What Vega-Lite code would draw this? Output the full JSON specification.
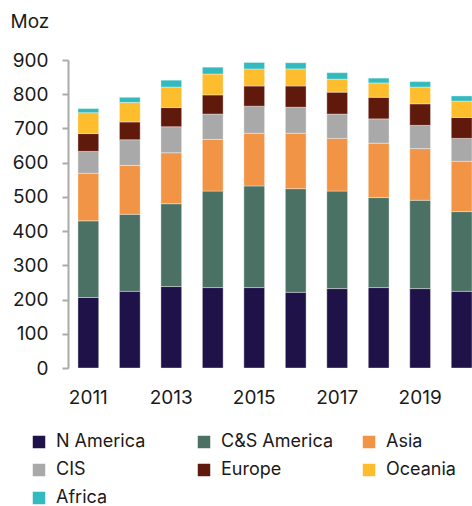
{
  "$schema": "https://vega.github.io/schema/vega-lite/v6.json",
  "width": 404,
  "height": 308,
  "autosize": {"type": "none"},
  "padding": {"left": 68, "top": 60, "right": 0, "bottom": 138},
  "background": "white",
  "config": {
    "view": {"stroke": null},
    "font": "Inter",
    "axis": {"labelFont": "Inter", "titleFont": "Inter", "labelColor": "#1a1a1a", "titleColor": "#1a1a1a"},
    "legend": {"labelFont": "Inter"}
  },
  "data": {
    "values": [
      {"year": "2011", "region": "N America", "k": 1, "v": 206},
      {"year": "2011", "region": "C&S America", "k": 2, "v": 224},
      {"year": "2011", "region": "Asia", "k": 3, "v": 139},
      {"year": "2011", "region": "CIS", "k": 4, "v": 64},
      {"year": "2011", "region": "Europe", "k": 5, "v": 52},
      {"year": "2011", "region": "Oceania", "k": 6, "v": 61},
      {"year": "2011", "region": "Africa", "k": 7, "v": 12},
      {"year": "2012", "region": "N America", "k": 1, "v": 224},
      {"year": "2012", "region": "C&S America", "k": 2, "v": 225},
      {"year": "2012", "region": "Asia", "k": 3, "v": 143},
      {"year": "2012", "region": "CIS", "k": 4, "v": 75},
      {"year": "2012", "region": "Europe", "k": 5, "v": 52},
      {"year": "2012", "region": "Oceania", "k": 6, "v": 57},
      {"year": "2012", "region": "Africa", "k": 7, "v": 15},
      {"year": "2013", "region": "N America", "k": 1, "v": 238},
      {"year": "2013", "region": "C&S America", "k": 2, "v": 242},
      {"year": "2013", "region": "Asia", "k": 3, "v": 149},
      {"year": "2013", "region": "CIS", "k": 4, "v": 76},
      {"year": "2013", "region": "Europe", "k": 5, "v": 56},
      {"year": "2013", "region": "Oceania", "k": 6, "v": 60},
      {"year": "2013", "region": "Africa", "k": 7, "v": 20},
      {"year": "2014", "region": "N America", "k": 1, "v": 235},
      {"year": "2014", "region": "C&S America", "k": 2, "v": 282},
      {"year": "2014", "region": "Asia", "k": 3, "v": 151},
      {"year": "2014", "region": "CIS", "k": 4, "v": 74},
      {"year": "2014", "region": "Europe", "k": 5, "v": 56},
      {"year": "2014", "region": "Oceania", "k": 6, "v": 61},
      {"year": "2014", "region": "Africa", "k": 7, "v": 20},
      {"year": "2015", "region": "N America", "k": 1, "v": 235},
      {"year": "2015", "region": "C&S America", "k": 2, "v": 297},
      {"year": "2015", "region": "Asia", "k": 3, "v": 154},
      {"year": "2015", "region": "CIS", "k": 4, "v": 79},
      {"year": "2015", "region": "Europe", "k": 5, "v": 59},
      {"year": "2015", "region": "Oceania", "k": 6, "v": 50},
      {"year": "2015", "region": "Africa", "k": 7, "v": 19},
      {"year": "2016", "region": "N America", "k": 1, "v": 221},
      {"year": "2016", "region": "C&S America", "k": 2, "v": 303},
      {"year": "2016", "region": "Asia", "k": 3, "v": 162},
      {"year": "2016", "region": "CIS", "k": 4, "v": 76},
      {"year": "2016", "region": "Europe", "k": 5, "v": 62},
      {"year": "2016", "region": "Oceania", "k": 6, "v": 50},
      {"year": "2016", "region": "Africa", "k": 7, "v": 18},
      {"year": "2017", "region": "N America", "k": 1, "v": 232},
      {"year": "2017", "region": "C&S America", "k": 2, "v": 285},
      {"year": "2017", "region": "Asia", "k": 3, "v": 154},
      {"year": "2017", "region": "CIS", "k": 4, "v": 71},
      {"year": "2017", "region": "Europe", "k": 5, "v": 64},
      {"year": "2017", "region": "Oceania", "k": 6, "v": 38},
      {"year": "2017", "region": "Africa", "k": 7, "v": 19},
      {"year": "2018", "region": "N America", "k": 1, "v": 235},
      {"year": "2018", "region": "C&S America", "k": 2, "v": 263},
      {"year": "2018", "region": "Asia", "k": 3, "v": 159},
      {"year": "2018", "region": "CIS", "k": 4, "v": 71},
      {"year": "2018", "region": "Europe", "k": 5, "v": 63},
      {"year": "2018", "region": "Oceania", "k": 6, "v": 42},
      {"year": "2018", "region": "Africa", "k": 7, "v": 14},
      {"year": "2019", "region": "N America", "k": 1, "v": 232},
      {"year": "2019", "region": "C&S America", "k": 2, "v": 258},
      {"year": "2019", "region": "Asia", "k": 3, "v": 151},
      {"year": "2019", "region": "CIS", "k": 4, "v": 68},
      {"year": "2019", "region": "Europe", "k": 5, "v": 63},
      {"year": "2019", "region": "Oceania", "k": 6, "v": 49},
      {"year": "2019", "region": "Africa", "k": 7, "v": 16},
      {"year": "2020", "region": "N America", "k": 1, "v": 224},
      {"year": "2020", "region": "C&S America", "k": 2, "v": 233},
      {"year": "2020", "region": "Asia", "k": 3, "v": 147},
      {"year": "2020", "region": "CIS", "k": 4, "v": 67},
      {"year": "2020", "region": "Europe", "k": 5, "v": 61},
      {"year": "2020", "region": "Oceania", "k": 6, "v": 48},
      {"year": "2020", "region": "Africa", "k": 7, "v": 15}
    ]
  },
  "mark": {"type": "bar", "stroke": "white", "strokeWidth": 0.6, "strokeOpacity": 0.6},
  "encoding": {
    "x": {
      "field": "year", "type": "ordinal",
      "scale": {"paddingInner": 0.5, "paddingOuter": 0.12, "align": 1},
      "axis": {
        "title": null, "domain": false, "ticks": false, "labelAngle": 0,
        "values": ["2011", "2013", "2015", "2017", "2019"],
        "labelFontSize": 19, "labelPadding": 20, "labelOverlap": false
      }
    },
    "y": {
      "field": "v", "type": "quantitative", "stack": "zero",
      "scale": {"domain": [0, 900], "nice": false},
      "axis": {
        "title": "Moz", "titleAngle": 0, "titleAlign": "left", "titleBaseline": "alphabetic",
        "titleX": -58, "titleY": -33, "titleFontSize": 19, "titleFontWeight": "normal",
        "values": [0, 100, 200, 300, 400, 500, 600, 700, 800, 900],
        "grid": false, "domainColor": "#aaaaaa", "domainWidth": 2,
        "tickColor": "#aaaaaa", "tickWidth": 2, "tickSize": 6,
        "labelFontSize": 19, "labelPadding": 14
      }
    },
    "color": {
      "field": "region", "type": "nominal",
      "scale": {
        "domain": ["N America", "C&S America", "Asia", "CIS", "Europe", "Oceania", "Africa"],
        "range": ["#1e1248", "#4a7163", "#f29446", "#a9a9a9", "#5f1a0c", "#fdbd2d", "#33babe"]
      },
      "legend": {
        "title": null, "orient": "none", "legendX": -38, "legendY": 373,
        "direction": "horizontal", "columns": 3, "gridAlign": "all", "columnPadding": 26,
        "rowPadding": 10, "symbolType": "square", "symbolSize": 156, "symbolStrokeWidth": 0,
        "symbolOpacity": 1, "labelFontSize": 18, "labelOffset": 8, "labelColor": "#1a1a1a",
        "padding": 0, "labelLimit": 300
      }
    },
    "order": {"field": "k", "type": "quantitative"}
  }
}
